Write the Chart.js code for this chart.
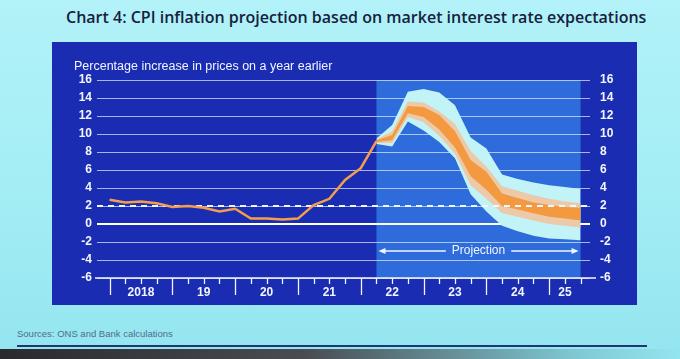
<!DOCTYPE html>
<html>
<head>
<meta charset="utf-8">
<script src="https://cdn.jsdelivr.net/npm/chart.js@4.4.0/dist/chart.umd.min.js"></script>
<style>
  html, body { margin: 0; padding: 0; }
  body {
    width: 680px; height: 359px; overflow: hidden; position: relative;
    background: linear-gradient(180deg, #b2f2f8 0%, #a3edf5 55%, #93e5ef 100%);
    font-family: "Liberation Sans", Arial, sans-serif;
  }
  #title {
    position: absolute; left: 66px; top: 6px; margin: 0;
    font: 600 16px "Open Sans", sans-serif; color: #16213f; white-space: nowrap;
  }
  #panel {
    position: absolute; left: 52px; top: 42px; width: 585px; height: 263px;
    background: #1a2cb2;
  }
  #sources {
    position: absolute; left: 17px; top: 328px; font-size: 9.5px; color: #4f6d8c;
  }
  #rule {
    position: absolute; left: 17px; top: 345px; width: 630px; height: 2px; background: #1f3775;
  }
  #bezel {
    position: absolute; left: 0; bottom: 0; width: 680px; height: 10px;
    background: linear-gradient(90deg, #2a2a2e 0%, #4a4c52 45%, #7fc9d4 85%, #93e5ef 100%);
  }
</style>
</head>
<body>
<h1 id="title">Chart 4: CPI inflation projection based on market interest rate expectations</h1>
<div id="panel"><canvas id="cpiChart" width="585" height="263"></canvas></div>
<div id="sources">Sources: ONS and Bank calculations</div>
<div id="rule"></div>
<div id="bezel"></div>

<script>
// CPI, % change on a year earlier, quarterly
const histQuarters = ['2018 Q1', '2018 Q2', '2018 Q3', '2018 Q4', '2019 Q1', '2019 Q2', '2019 Q3', '2019 Q4',
  '2020 Q1', '2020 Q2', '2020 Q3', '2020 Q4', '2021 Q1', '2021 Q2', '2021 Q3', '2021 Q4', '2022 Q1', '2022 Q2'];
const histCPI = [2.7, 2.4, 2.5, 2.3, 1.9, 2.0, 1.8, 1.4, 1.7, 0.6, 0.6, 0.5, 0.6, 2.1, 2.8, 4.9, 6.2, 9.2];

// fan chart bands (90%, 60%, 30% ranges)
const projQuarters = ['2022 Q2', '2022 Q3', '2022 Q4', '2023 Q1', '2023 Q2', '2023 Q3', '2023 Q4',
  '2024 Q1', '2024 Q2', '2024 Q3', '2024 Q4', '2025 Q1', '2025 Q2', '2025 Q3'];
const band90Hi = [9.5, 11.0, 14.7, 15.0, 14.6, 13.2, 9.6, 8.4, 5.5, 5.0, 4.6, 4.3, 4.1, 3.9];
const band60Hi = [9.4, 10.3, 13.6, 13.5, 12.5, 11.1, 8.1, 6.4, 4.2, 3.7, 3.2, 2.8, 2.5, 2.3];
const band30Hi = [9.3, 9.9, 13.1, 13.0, 12.1, 10.3, 7.1, 5.8, 3.4, 2.9, 2.4, 2.1, 1.9, 1.8];
const band30Lo = [9.1, 9.3, 12.3, 11.9, 10.5, 8.5, 5.3, 3.8, 2.0, 1.6, 1.2, 0.8, 0.6, 0.4];
const band60Lo = [9.0, 9.0, 11.9, 11.3, 9.8, 7.8, 4.3, 2.8, 1.2, 0.8, 0.4, 0.0, -0.2, -0.4];
const band90Lo = [8.9, 8.6, 11.4, 10.4, 9.1, 7.3, 3.3, 1.4, -0.2, -0.8, -1.3, -1.6, -1.7, -1.8];

const targetRate = 2;
const yearLabels = ['2018', '19', '20', '21', '22', '23', '24', '25'];
const yMin = -6, yMax = 16, yStep = 2;
const projLabel = 'Projection';
const projLabelLevel = -3;

// '2019 Q3' -> 2019.5 (start of quarter)
const toX = q => { const [yr, qt] = q.split(' Q'); return +yr + (qt - 1) / 4; };
const pts = (qs, vals) => qs.map((q, i) => ({ x: toX(q), y: vals[i] }));

const xStart = toX(histQuarters[0]);
const projStart = toX(projQuarters[0]);
const projEnd = toX(projQuarters[projQuarters.length - 1]);
const xMin = xStart - 0.2, xMax = projEnd + 0.15;

const WHITE = '#f2f6ff';

const slidePlugin = {
  id: 'slide',
  beforeDraw(chart) {
    const { ctx, chartArea: a, scales: { x } } = chart;
    const x0 = x.getPixelForValue(projStart), x1 = x.getPixelForValue(projEnd);
    ctx.save();
    ctx.fillStyle = '#2e6cdc';
    ctx.fillRect(x0, a.top, x1 - x0, a.bottom - a.top);
    ctx.restore();
  },
  afterDraw(chart) {
    const { ctx, chartArea: a, scales: { x, y } } = chart;
    ctx.save();
    // y axis caption
    ctx.fillStyle = WHITE;
    ctx.font = '12.5px "Liberation Sans", Arial, sans-serif';
    ctx.textBaseline = 'middle';
    ctx.textAlign = 'left';
    ctx.fillText('Percentage increase in prices on a year earlier', 22, a.top - 13);

    // x axis line and quarter ticks
    ctx.strokeStyle = WHITE;
    ctx.lineWidth = 1.5;
    ctx.beginPath();
    ctx.moveTo(a.left - 2, a.bottom);
    ctx.lineTo(a.right + 6, a.bottom);
    ctx.stroke();
    ctx.lineWidth = 1.3;
    for (let t = xStart; t <= projEnd + 1e-6; t += 0.25) {
      const px = Math.round(x.getPixelForValue(t)) + 0.5;
      const len = Math.abs(t - Math.round(t)) < 1e-6 ? 17 : 6;
      ctx.beginPath();
      ctx.moveTo(px, a.bottom);
      ctx.lineTo(px, a.bottom + len);
      ctx.stroke();
    }
    // year labels centred in each year
    ctx.font = 'bold 12px "Liberation Sans", Arial, sans-serif';
    ctx.textAlign = 'center';
    yearLabels.forEach((lab, i) => {
      const yr = Math.floor(xStart) + i;
      const mid = (yr + Math.min(yr + 1, projEnd)) / 2;
      ctx.fillText(lab, x.getPixelForValue(mid), a.bottom + 15);
    });

    // projection arrow
    const py = y.getPixelForValue(projLabelLevel);
    const x0 = x.getPixelForValue(projStart) + 2, x1 = x.getPixelForValue(projEnd) - 2;
    const cx = (x0 + x1) / 2;
    ctx.font = '12px "Liberation Sans", Arial, sans-serif';
    const tw = ctx.measureText(projLabel).width;
    ctx.fillText(projLabel, cx, py);
    ctx.lineWidth = 1.3;
    ctx.beginPath();
    ctx.moveTo(x0 + 5, py); ctx.lineTo(cx - tw / 2 - 6, py);
    ctx.moveTo(cx + tw / 2 + 6, py); ctx.lineTo(x1 - 5, py);
    ctx.stroke();
    ctx.beginPath();
    ctx.moveTo(x0, py); ctx.lineTo(x0 + 7, py - 3); ctx.lineTo(x0 + 7, py + 3); ctx.closePath();
    ctx.moveTo(x1, py); ctx.lineTo(x1 - 7, py - 3); ctx.lineTo(x1 - 7, py + 3); ctx.closePath();
    ctx.fill();
    ctx.restore();
  }
};

const band = (label, data, color, fill) => ({
  label, data, fill, backgroundColor: color, borderWidth: 0, pointRadius: 0, tension: 0
});

new Chart(document.getElementById('cpiChart'), {
  type: 'line',
  data: {
    datasets: [
      {
        label: 'CPI inflation',
        data: pts(histQuarters, histCPI),
        borderColor: '#f49d4c',
        borderWidth: 2.5,
        pointRadius: 0,
        fill: false
      },
      {
        label: 'Inflation target',
        data: [{ x: xMin, y: targetRate }, { x: xMax, y: targetRate }],
        borderColor: WHITE,
        borderWidth: 2,
        borderDash: [6, 5],
        pointRadius: 0,
        fill: false
      },
      band('30% high', pts(projQuarters, band30Hi), '#f39a40', '+1'),
      band('30% low', pts(projQuarters, band30Lo), 'transparent', false),
      band('60% high', pts(projQuarters, band60Hi), '#ebc9a9', '+1'),
      band('60% low', pts(projQuarters, band60Lo), 'transparent', false),
      band('90% high', pts(projQuarters, band90Hi), '#c2f3f7', '+1'),
      band('90% low', pts(projQuarters, band90Lo), 'transparent', false)
    ]
  },
  options: {
    responsive: false,
    animation: false,
    layout: { padding: { top: 38, bottom: 27, left: 0, right: 0 } },
    plugins: {
      legend: { display: false },
      tooltip: { enabled: false }
    },
    scales: {
      x: {
        type: 'linear',
        min: xMin,
        max: xMax,
        display: false
      },
      y: {
        position: 'left',
        min: yMin,
        max: yMax,
        afterFit: s => { s.width = 45; },
        ticks: {
          stepSize: yStep,
          color: WHITE,
          padding: 5,
          font: { size: 12, weight: 'bold' }
        },
        grid: {
          drawTicks: false,
          color: ctx => ctx.tick.value === 0 ? '#ffffff' : 'rgba(215,228,255,0.75)',
          lineWidth: ctx => ctx.tick.value === 0 ? 2 : 1
        },
        border: { display: false }
      },
      y2: {
        position: 'right',
        min: yMin,
        max: yMax,
        afterFit: s => { s.width = 47; },
        ticks: {
          stepSize: yStep,
          color: WHITE,
          padding: 10,
          font: { size: 12, weight: 'bold' }
        },
        grid: { display: false, drawTicks: false },
        border: { display: false }
      }
    }
  },
  plugins: [slidePlugin]
});
</script>
</body>
</html>
